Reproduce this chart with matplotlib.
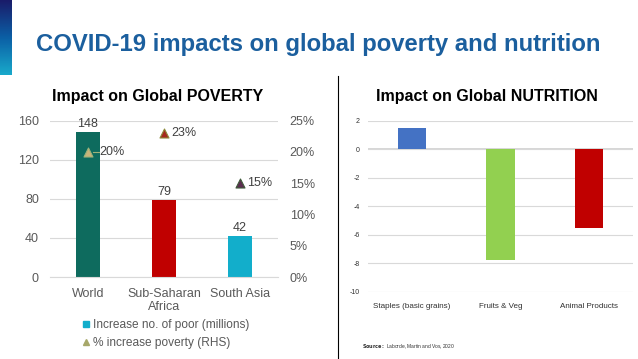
import matplotlib
matplotlib.use("Agg")
import matplotlib.pyplot as plt
from matplotlib.lines import Line2D
from matplotlib.ticker import PercentFormatter
import numpy as np

plt.rcParams['font.family'] = ['Liberation Sans', 'DejaVu Sans']
plt.rcParams['axes.unicode_minus'] = False

# poverty panel
regions = ['World', 'Sub-Saharan\nAfrica', 'South Asia']
poor_millions = [148, 79, 42]
pct_increase = [0.20, 0.23, 0.15]
bar_colors = ['#0E6B5E', '#C00000', '#12AECB']
tri_colors = ['#C9B47A', '#A52A1E', '#5B2E50']
tri_edges = ['#9DB27A', '#8C8A3A', '#3E5A3A']

# nutrition panel
food_groups = ['Staples (basic grains)', 'Fruits & Veg', 'Animal Products']
nutrition_change = [1.5, -7.75, -5.5]
food_colors = ['#4472C4', '#92D050', '#C00000']

W, H = 638, 359
fig = plt.figure(figsize=(W / 100, H / 100), dpi=100)


def px(x0, y0, x1, y1):
    # pixel box (top-left origin) -> figure fraction rect
    return [x0 / W, 1 - y1 / H, (x1 - x0) / W, (y1 - y0) / H]


# side gradient strip
strip = fig.add_axes(px(0, 0, 12, 75))
grad = np.linspace(0, 1, 100).reshape(-1, 1)
cmap = matplotlib.colors.LinearSegmentedColormap.from_list('s', ['#1A1C6A', '#0B5FA5', '#19A9CB'])
strip.imshow(grad, aspect='auto', cmap=cmap)
strip.axis('off')

fig.text(36 / W, 1 - 45 / H, 'COVID-19 impacts on global poverty and nutrition',
         fontsize=17.2, fontweight='bold', color='#1B5F9E', va='center', ha='left')

# divider
fig.add_artist(Line2D([338 / W, 338 / W], [0, 1 - 76 / H], color='black', lw=0.8))

# ---- left chart
ax = fig.add_axes(px(50, 120.7, 278, 277))
x = np.arange(len(regions))
ax.bar(x, poor_millions, width=0.32, color=bar_colors, zorder=2)
for xi, v in zip(x, poor_millions):
    ax.text(xi, v + 2, str(v), ha='center', va='bottom', fontsize=9, color='#404040')
ax.set_xlim(-0.5, 2.5)
ax.set_ylim(0, 160)
ax.set_yticks([0, 40, 80, 120, 160])
ax.grid(axis='y', color='#D9D9D9', lw=0.8, zorder=0)
ax.set_xticks(x)
ax.set_xticklabels(regions, fontsize=9, color='#595959', linespacing=1.15)
ax.tick_params(length=0, labelsize=9, labelcolor='#595959', pad=8)
ax.tick_params(axis='x', pad=8)
for s in ax.spines.values():
    s.set_visible(False)
ax.spines['bottom'].set_visible(True)
ax.spines['bottom'].set_color('#D9D9D9')

ax2 = ax.twinx()
ax2.set_ylim(0, 0.25)
ax2.set_yticks([0, 0.05, 0.10, 0.15, 0.20, 0.25])
ax2.yaxis.set_major_formatter(PercentFormatter(1.0, decimals=0))
ax2.tick_params(length=0, labelsize=9, labelcolor='#595959', pad=8.5)
for s in ax2.spines.values():
    s.set_visible(False)
for i, (xi, p) in enumerate(zip(x, pct_increase)):
    ax2.scatter(xi, p, marker='^', s=42, color=tri_colors[i], edgecolor=tri_edges[i],
                lw=0.8, zorder=3)
    if i == 0:
        ax2.plot([xi + 0.06, xi + 0.14], [p, p], color='#9DB27A', lw=0.8, zorder=3)
        ax2.text(xi + 0.15, p, f'{p:.0%}', va='center', fontsize=9, color='#404040')
    else:
        ax2.text(xi + 0.09, p, f'{p:.0%}', va='center', fontsize=9, color='#404040')

ax.set_title('Impact on Global POVERTY', fontsize=11.5, fontweight='bold', pad=14, x=0.47)

handles = [Line2D([], [], ls='', marker='s', ms=5, color='#12AECB'),
           Line2D([], [], ls='', marker='^', ms=5, color='#A7A86A')]
fig.legend(handles, ['Increase no. of poor (millions)', '% increase poverty (RHS)'],
           loc='upper left', bbox_to_anchor=(82 / W, 1 - 319 / H), frameon=False,
           fontsize=8.6, labelcolor='#595959', handlelength=0.6, handletextpad=0.3,
           labelspacing=0.5, borderpad=0, borderaxespad=0)

# ---- right chart
bx = fig.add_axes(px(368, 120.7, 633, 292))
xb = np.arange(len(food_groups))
bx.bar(xb, nutrition_change, width=0.32, color=food_colors, zorder=2)
bx.set_xlim(-0.5, 2.5)
bx.set_ylim(-10, 2)
bx.set_yticks(range(-10, 3, 2))
bx.grid(axis='y', color='#D9D9D9', lw=0.8, zorder=0)
bx.axhline(0, color='#D0D0D0', lw=1.2, zorder=1)
bx.set_xticks(xb)
bx.set_xticklabels(food_groups, fontsize=5.8, color='#303030')
bx.tick_params(length=0, labelsize=5, labelcolor='#303030', pad=6)
bx.tick_params(axis='x', labelsize=5.8, pad=8)
for s in bx.spines.values():
    s.set_visible(False)
bx.set_title('Impact on Global NUTRITION', fontsize=11.5, fontweight='bold', pad=14, x=0.45)

fig.text(362 / W, 1 - 347 / H, r'$\bf{Source:}$ Laborde, Martin and Vos, 2020',
         fontsize=3.5, color='#303030', va='center')

fig.savefig('out.png', dpi=100)
